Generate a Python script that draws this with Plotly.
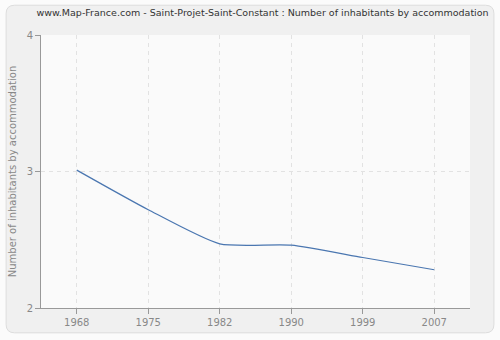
import plotly.graph_objects as go

years = ["1968", "1975", "1982", "1990", "1999", "2007"]
values = [3.01, 2.72, 2.47, 2.46, 2.37, 2.28]
y_ticks = [2, 3, 4]

# plot area in pixels: left 40, right 470, top 35, bottom 310
def px_x(p):
    return (p - 40) / 430.0

def px_y(p):
    return (310 - p) / 275.0

x0, x1, y0, y1 = px_x(5), px_x(494), px_y(335), px_y(5)
r = 0.02
ry = r * 430 / 275
panel_path = (
    f"M {x0 + r},{y0} L {x1 - r},{y0} Q {x1},{y0} {x1},{y0 + ry} "
    f"L {x1},{y1 - ry} Q {x1},{y1} {x1 - r},{y1} "
    f"L {x0 + r},{y1} Q {x0},{y1} {x0},{y1 - ry} "
    f"L {x0},{y0 + ry} Q {x0},{y0} {x0 + r},{y0} Z"
)

fig = go.Figure()
fig.add_trace(go.Scatter(
    x=years, y=values, mode="lines",
    line=dict(color="#4a76b0", width=1.2, shape="spline", smoothing=0.6),
    hoverinfo="skip", showlegend=False,
))

fig.update_layout(
    width=500, height=340,
    margin=dict(l=40, r=30, t=35, b=30),
    paper_bgcolor="#fbfbfb",
    plot_bgcolor="#fafafa",
    font=dict(family="DejaVu Sans, Verdana, sans-serif", size=10, color="#888888"),
    title=dict(
        text="www.Map-France.com - Saint-Projet-Saint-Constant : Number of inhabitants by accommodation",
        xref="container", x=0.525, xanchor="center", y=0.962, yanchor="middle",
        font=dict(size=9.5, color="#333333"),
    ),
    xaxis=dict(
        type="category", range=[-0.5, 5.5],
        showgrid=True, gridcolor="#e2e2e2", griddash="4px,4px", gridwidth=1,
        showline=True, linecolor="#999999", linewidth=1,
        ticks="outside", ticklen=5, tickcolor="#999999",
        zeroline=False, fixedrange=True,
    ),
    yaxis=dict(
        range=[2, 4], tickvals=y_ticks, ticktext=[str(v) for v in y_ticks],
        showgrid=True, gridcolor="#e2e2e2", griddash="4px,4px", gridwidth=1,
        showline=True, linecolor="#999999", linewidth=1,
        ticks="outside", ticklen=5, tickcolor="#999999",
        zeroline=False, fixedrange=True,
        title=dict(text="Number of inhabitants by accommodation",
                   font=dict(size=10, color="#888888"), standoff=8),
    ),
    shapes=[
        dict(
            type="path", xref="paper", yref="paper", path=panel_path,
            line=dict(color="#dddddd", width=1), fillcolor="#f0f0f0",
            layer="below",
        ),
        dict(
            type="rect", xref="paper", yref="paper", x0=0, x1=1, y0=0, y1=1,
            line=dict(width=0), fillcolor="#fafafa", layer="below",
        ),
    ],
)

fig.write_html("out.html")
